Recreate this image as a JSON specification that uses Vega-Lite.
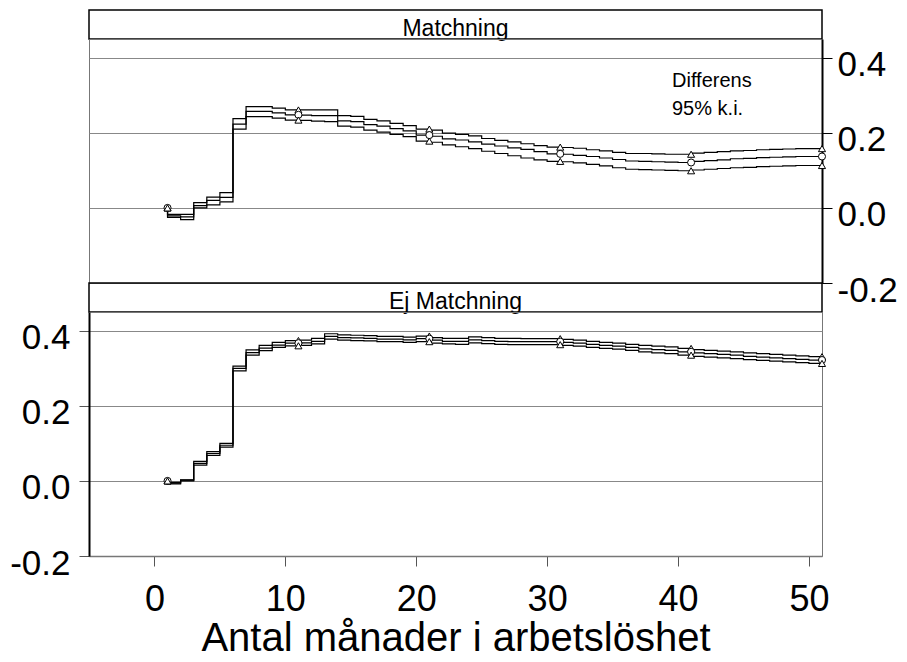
{
  "$schema": "https://vega.github.io/schema/vega-lite/v6.json",
  "background": "white",
  "padding": {"left": 9, "top": 9, "right": 5, "bottom": 0},
  "datasets": {
    "m": [
      {"month": 1, "hi": 0.000, "diff": 0.000, "lo": 0.000},
      {"month": 2, "hi": -0.017, "diff": -0.021, "lo": -0.025},
      {"month": 3, "hi": -0.017, "diff": -0.024, "lo": -0.031},
      {"month": 4, "hi": 0.014, "diff": 0.006, "lo": 0.000},
      {"month": 5, "hi": 0.029, "diff": 0.020, "lo": 0.008},
      {"month": 6, "hi": 0.041, "diff": 0.028, "lo": 0.016},
      {"month": 7, "hi": 0.238, "diff": 0.223, "lo": 0.210},
      {"month": 8, "hi": 0.270, "diff": 0.257, "lo": 0.243},
      {"month": 9, "hi": 0.270, "diff": 0.257, "lo": 0.243},
      {"month": 10, "hi": 0.266, "diff": 0.253, "lo": 0.239},
      {"month": 11, "hi": 0.261, "diff": 0.248, "lo": 0.234},
      {"month": 12, "hi": 0.261, "diff": 0.247, "lo": 0.233},
      {"month": 13, "hi": 0.261, "diff": 0.246, "lo": 0.231},
      {"month": 14, "hi": 0.261, "diff": 0.246, "lo": 0.230},
      {"month": 15, "hi": 0.246, "diff": 0.232, "lo": 0.218},
      {"month": 16, "hi": 0.244, "diff": 0.230, "lo": 0.215},
      {"month": 17, "hi": 0.236, "diff": 0.222, "lo": 0.207},
      {"month": 18, "hi": 0.232, "diff": 0.218, "lo": 0.202},
      {"month": 19, "hi": 0.225, "diff": 0.211, "lo": 0.196},
      {"month": 20, "hi": 0.219, "diff": 0.205, "lo": 0.190},
      {"month": 21, "hi": 0.210, "diff": 0.194, "lo": 0.178},
      {"month": 22, "hi": 0.207, "diff": 0.191, "lo": 0.175},
      {"month": 23, "hi": 0.199, "diff": 0.184, "lo": 0.168},
      {"month": 24, "hi": 0.196, "diff": 0.181, "lo": 0.163},
      {"month": 25, "hi": 0.192, "diff": 0.176, "lo": 0.158},
      {"month": 26, "hi": 0.185, "diff": 0.170, "lo": 0.151},
      {"month": 27, "hi": 0.180, "diff": 0.165, "lo": 0.145},
      {"month": 28, "hi": 0.176, "diff": 0.160, "lo": 0.139},
      {"month": 29, "hi": 0.171, "diff": 0.156, "lo": 0.133},
      {"month": 30, "hi": 0.166, "diff": 0.150, "lo": 0.128},
      {"month": 31, "hi": 0.162, "diff": 0.144, "lo": 0.124},
      {"month": 32, "hi": 0.161, "diff": 0.143, "lo": 0.123},
      {"month": 33, "hi": 0.159, "diff": 0.140, "lo": 0.120},
      {"month": 34, "hi": 0.155, "diff": 0.137, "lo": 0.116},
      {"month": 35, "hi": 0.152, "diff": 0.133, "lo": 0.112},
      {"month": 36, "hi": 0.148, "diff": 0.129, "lo": 0.107},
      {"month": 37, "hi": 0.145, "diff": 0.125, "lo": 0.103},
      {"month": 38, "hi": 0.145, "diff": 0.124, "lo": 0.102},
      {"month": 39, "hi": 0.144, "diff": 0.123, "lo": 0.101},
      {"month": 40, "hi": 0.143, "diff": 0.122, "lo": 0.100},
      {"month": 41, "hi": 0.143, "diff": 0.121, "lo": 0.099},
      {"month": 42, "hi": 0.146, "diff": 0.124, "lo": 0.101},
      {"month": 43, "hi": 0.148, "diff": 0.126, "lo": 0.103},
      {"month": 44, "hi": 0.150, "diff": 0.128, "lo": 0.105},
      {"month": 45, "hi": 0.152, "diff": 0.131, "lo": 0.107},
      {"month": 46, "hi": 0.153, "diff": 0.132, "lo": 0.108},
      {"month": 47, "hi": 0.155, "diff": 0.134, "lo": 0.110},
      {"month": 48, "hi": 0.156, "diff": 0.135, "lo": 0.111},
      {"month": 49, "hi": 0.157, "diff": 0.136, "lo": 0.112},
      {"month": 50, "hi": 0.158, "diff": 0.137, "lo": 0.113},
      {"month": 51, "hi": 0.158, "diff": 0.137, "lo": 0.113}
    ],
    "e": [
      {"month": 1, "hi": 0.000, "diff": 0.000, "lo": 0.000},
      {"month": 2, "hi": -0.004, "diff": -0.006, "lo": -0.008},
      {"month": 3, "hi": 0.003, "diff": 0.002, "lo": 0.000},
      {"month": 4, "hi": 0.052, "diff": 0.047, "lo": 0.042},
      {"month": 5, "hi": 0.078, "diff": 0.073, "lo": 0.068},
      {"month": 6, "hi": 0.100, "diff": 0.095, "lo": 0.090},
      {"month": 7, "hi": 0.306, "diff": 0.300, "lo": 0.293},
      {"month": 8, "hi": 0.349, "diff": 0.342, "lo": 0.335},
      {"month": 9, "hi": 0.361, "diff": 0.354, "lo": 0.347},
      {"month": 10, "hi": 0.369, "diff": 0.362, "lo": 0.356},
      {"month": 11, "hi": 0.374, "diff": 0.367, "lo": 0.360},
      {"month": 12, "hi": 0.375, "diff": 0.368, "lo": 0.361},
      {"month": 13, "hi": 0.380, "diff": 0.372, "lo": 0.365},
      {"month": 14, "hi": 0.392, "diff": 0.385, "lo": 0.378},
      {"month": 15, "hi": 0.389, "diff": 0.382, "lo": 0.375},
      {"month": 16, "hi": 0.388, "diff": 0.381, "lo": 0.374},
      {"month": 17, "hi": 0.387, "diff": 0.380, "lo": 0.373},
      {"month": 18, "hi": 0.385, "diff": 0.378, "lo": 0.371},
      {"month": 19, "hi": 0.385, "diff": 0.378, "lo": 0.371},
      {"month": 20, "hi": 0.383, "diff": 0.376, "lo": 0.369},
      {"month": 21, "hi": 0.386, "diff": 0.379, "lo": 0.371},
      {"month": 22, "hi": 0.382, "diff": 0.375, "lo": 0.367},
      {"month": 23, "hi": 0.380, "diff": 0.372, "lo": 0.365},
      {"month": 24, "hi": 0.380, "diff": 0.372, "lo": 0.364},
      {"month": 25, "hi": 0.384, "diff": 0.376, "lo": 0.368},
      {"month": 26, "hi": 0.382, "diff": 0.374, "lo": 0.366},
      {"month": 27, "hi": 0.380, "diff": 0.372, "lo": 0.364},
      {"month": 28, "hi": 0.380, "diff": 0.371, "lo": 0.363},
      {"month": 29, "hi": 0.379, "diff": 0.371, "lo": 0.363},
      {"month": 30, "hi": 0.379, "diff": 0.371, "lo": 0.363},
      {"month": 31, "hi": 0.379, "diff": 0.371, "lo": 0.363},
      {"month": 32, "hi": 0.377, "diff": 0.369, "lo": 0.361},
      {"month": 33, "hi": 0.375, "diff": 0.367, "lo": 0.359},
      {"month": 34, "hi": 0.372, "diff": 0.364, "lo": 0.356},
      {"month": 35, "hi": 0.369, "diff": 0.361, "lo": 0.353},
      {"month": 36, "hi": 0.367, "diff": 0.359, "lo": 0.351},
      {"month": 37, "hi": 0.364, "diff": 0.356, "lo": 0.348},
      {"month": 38, "hi": 0.361, "diff": 0.352, "lo": 0.344},
      {"month": 39, "hi": 0.359, "diff": 0.350, "lo": 0.341},
      {"month": 40, "hi": 0.357, "diff": 0.348, "lo": 0.339},
      {"month": 41, "hi": 0.353, "diff": 0.344, "lo": 0.335},
      {"month": 42, "hi": 0.350, "diff": 0.341, "lo": 0.332},
      {"month": 43, "hi": 0.348, "diff": 0.339, "lo": 0.330},
      {"month": 44, "hi": 0.346, "diff": 0.337, "lo": 0.328},
      {"month": 45, "hi": 0.344, "diff": 0.335, "lo": 0.326},
      {"month": 46, "hi": 0.341, "diff": 0.332, "lo": 0.323},
      {"month": 47, "hi": 0.339, "diff": 0.330, "lo": 0.321},
      {"month": 48, "hi": 0.337, "diff": 0.328, "lo": 0.319},
      {"month": 49, "hi": 0.335, "diff": 0.326, "lo": 0.317},
      {"month": 50, "hi": 0.333, "diff": 0.324, "lo": 0.315},
      {"month": 51, "hi": 0.331, "diff": 0.322, "lo": 0.313}
    ]
  },
  "spacing": 0,
  "bounds": "flush",
  "resolve": {
    "scale": {"shape": "independent", "x": "independent", "y": "independent"},
    "legend": {"shape": "independent"}
  },
  "vconcat": [
    {
      "width": 733,
      "height": 29,
      "data": {"values": [{"label": "Matchning"}]},
      "view": {"stroke": "black", "strokeWidth": 1.5},
      "mark": {"type": "text", "fontSize": 23, "baseline": "alphabetic", "dy": 11, "color": "black"},
      "encoding": {"text": {"field": "label"}}
    },
    {
      "width": 733,
      "height": 244,
      "data": {"name": "m"},
      "transform": [{"fold": ["hi", "diff", "lo"], "as": ["key", "value"]}],
      "encoding": {
        "x": {"field": "month", "type": "quantitative", "scale": {"domain": [-5, 51], "nice": false, "zero": false}, "axis": null},
        "y": {
          "field": "value", "type": "quantitative",
          "scale": {"domain": [-0.2, 0.45], "nice": false, "zero": false},
          "axis": {
            "orient": "right", "title": null, "values": [-0.2, 0, 0.2, 0.4],
            "labelExpr": "datum.value < 0 ? '-' + format(-datum.value, '.1f') : format(datum.value, '.1f')",
            "labelFontSize": 35, "labelColor": "black", "labelPadding": 5, "labelOffset": 7,
            "tickSize": 10, "tickColor": "black", "tickWidth": 1,
            "domainColor": "black", "domainWidth": 2,
            "grid": true, "gridColor": "#888888", "gridWidth": 1
          }
        }
      },
      "layer": [
        {
          "mark": {"type": "line", "interpolate": "step-before", "color": "black", "strokeWidth": 1.2},
          "encoding": {"detail": {"field": "key"}}
        },
        {
          "transform": [{"filter": "datum.month % 10 == 1"}],
          "mark": {"type": "point", "filled": true, "fill": "white", "stroke": "black", "strokeWidth": 1, "size": 50, "opacity": 1},
          "encoding": {
            "shape": {
              "field": "key", "type": "nominal",
              "scale": {"domain": ["diff", "hi", "lo"], "range": ["circle", "triangle-up", "triangle-up"]},
              "legend": {
                "orient": "none", "legendX": 530, "legendY": 32, "title": null,
                "values": ["diff", "hi"],
                "labelExpr": "datum.value == 'diff' ? 'Differens' : '95% k.i.'",
                "labelFontSize": 20, "labelColor": "black", "labelOffset": 33,
                "symbolSize": 210, "symbolStrokeWidth": 1.8, "symbolStrokeColor": "black", "symbolFillColor": "white",
                "symbolOpacity": 1,
                "rowPadding": 7, "padding": 0,
                "encode": {
                  "symbols": {
                    "update": {
                      "shape": {"signal": "datum.value == 'diff' ? 'M-4,0L-0.5,0A0.5,0.5,0,1,1,0.5,0A0.5,0.5,0,1,1,-0.5,0M0.5,0L4,0' : 'M-4,0L4,0M0,-0.75L0.45,0.05L-0.45,0.05Z'"},
                      "x": {"value": 7},
                      "y": {"value": 10},
                      "size": {"value": 210},
                      "stroke": {"value": "black"},
                      "fill": {"value": "white"},
                      "strokeWidth": {"value": 1.8},
                      "opacity": {"value": 1},
                      "fillOpacity": {"value": 1},
                      "strokeOpacity": {"value": 1}
                    }
                  }
                }
              }
            }
          }
        }
      ]
    },
    {
      "width": 733,
      "height": 29,
      "data": {"values": [{"label": "Ej Matchning"}]},
      "view": {"stroke": "black", "strokeWidth": 1.5},
      "mark": {"type": "text", "fontSize": 23, "baseline": "alphabetic", "dy": 11, "color": "black"},
      "encoding": {"text": {"field": "label"}}
    },
    {
      "width": 733,
      "height": 244,
      "data": {"name": "e"},
      "transform": [{"fold": ["hi", "diff", "lo"], "as": ["key", "value"]}],
      "encoding": {
        "x": {
          "field": "month", "type": "quantitative",
          "scale": {"domain": [-5, 51], "nice": false, "zero": false},
          "axis": {
            "title": "Antal månader i arbetslöshet", "values": [0, 10, 20, 30, 40, 50],
            "labelFontSize": 36, "labelColor": "black", "labelPadding": 16,
            "tickSize": 10, "tickColor": "#555555", "tickWidth": 1,
            "domainColor": "#777777", "domainWidth": 1.5, "grid": false,
            "titleFontSize": 40, "titleFontWeight": "normal", "titleColor": "black", "titlePadding": 1
          }
        },
        "y": {
          "field": "value", "type": "quantitative",
          "scale": {"domain": [-0.2, 0.45], "nice": false, "zero": false},
          "axis": {
            "orient": "left", "title": null, "values": [-0.2, 0, 0.2, 0.4],
            "labelExpr": "datum.value < 0 ? '-' + format(-datum.value, '.1f') : format(datum.value, '.1f')",
            "labelFontSize": 35, "labelColor": "black", "labelPadding": 9, "labelOffset": 7,
            "tickSize": 10, "tickColor": "#555555", "tickWidth": 1,
            "domainColor": "black", "domainWidth": 2,
            "grid": true, "gridColor": "#888888", "gridWidth": 1
          }
        }
      },
      "layer": [
        {
          "mark": {"type": "line", "interpolate": "step-before", "color": "black", "strokeWidth": 1.2},
          "encoding": {"detail": {"field": "key"}}
        },
        {
          "transform": [{"filter": "datum.month % 10 == 1"}],
          "mark": {"type": "point", "filled": true, "fill": "white", "stroke": "black", "strokeWidth": 1, "size": 50, "opacity": 1},
          "encoding": {
            "shape": {
              "field": "key", "type": "nominal",
              "scale": {"domain": ["diff", "hi", "lo"], "range": ["circle", "triangle-up", "triangle-up"]},
              "legend": null
            }
          }
        }
      ]
    }
  ],
  "config": {
    "font": "Liberation Sans",
    "view": {"stroke": "#777777", "strokeWidth": 1}
  }
}
